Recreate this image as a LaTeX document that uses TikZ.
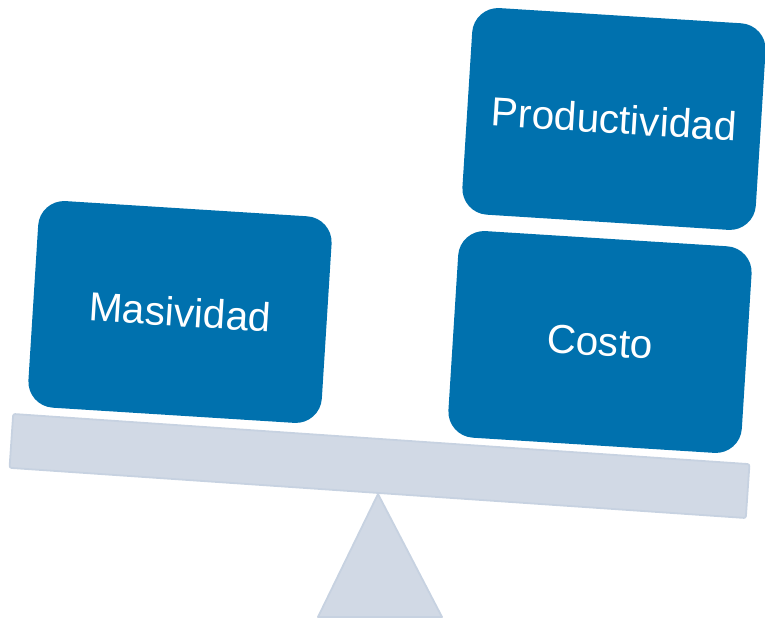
\documentclass[tikz,border=0pt]{standalone}
\usepackage{fontspec}
\setmainfont{Liberation Sans}
\definecolor{boxblue}{RGB}{0,113,174}
\definecolor{beamfill}{RGB}{209,217,229}
\definecolor{beamline}{RGB}{199,210,225}
\begin{document}
\begin{tikzpicture}[x=1pt,y=1pt,
  block/.style={rectangle, rounded corners=26pt, fill=boxblue, text=white,
    minimum width=294pt, minimum height=207pt, rotate=-3.6, inner sep=0pt,
    font=\fontsize{40.5}{48}\selectfont},
  beamstyle/.style={rectangle, rounded corners=2pt, fill=beamfill, draw=beamline, line width=1.8pt,
    minimum width=738pt, minimum height=54pt, rotate=-3.9, inner sep=0pt}]
\useasboundingbox (0,0) rectangle (765,620);
\fill[beamfill, draw=beamline, line width=1.8pt, line join=round] (378,126) -- (442,3) -- (318,3) -- cycle;
\node[beamstyle] (beam) at (379.5,154) {};
\node[block] (m) at (180,308) {Masividad};
\node[block] (p) at (614,501) {Productividad};
\node[block] (c) at (600,278) {Costo};
\end{tikzpicture}
\end{document}
